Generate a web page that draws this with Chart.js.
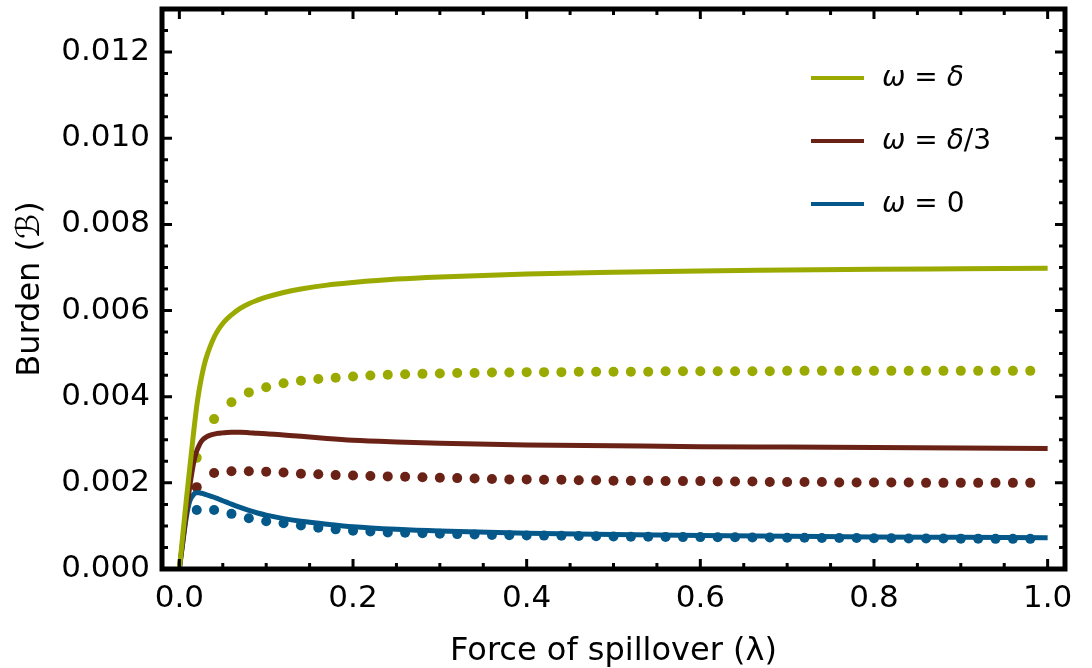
<!DOCTYPE html>
<html>
<head>
<meta charset="utf-8">
<title>Burden vs force of spillover</title>
<script src="https://cdn.jsdelivr.net/npm/chart.js@4.4.1/dist/chart.umd.min.js"></script>
<style>
  html, body { margin: 0; padding: 0; background: #fff; }
  #burdenChart { display: block; }
</style>
</head>
<body>
<canvas id="burdenChart" width="1092" height="668"></canvas>
<script>
// Solid curves, values in units of 0.001
const lambdaLine = [0, 0.004, 0.008, 0.012, 0.016, 0.018, 0.02, 0.0225, 0.025, 0.0275, 0.03, 0.0325, 0.035, 0.04, 0.045, 0.05, 0.055, 0.06, 0.07, 0.08, 0.09, 0.1, 0.12, 0.14, 0.17, 0.2, 0.25, 0.3, 0.4, 0.5, 0.6, 0.7, 0.8, 0.9, 1.0];
const burdenDelta = [0, 0.8, 1.6, 2.35, 3.1, 3.45, 3.78, 4.12, 4.4, 4.64, 4.84, 5.0, 5.14, 5.38, 5.56, 5.7, 5.81, 5.9, 6.05, 6.16, 6.24, 6.31, 6.42, 6.5, 6.59, 6.65, 6.73, 6.78, 6.85, 6.89, 6.92, 6.94, 6.96, 6.97, 6.98];
const burdenThird = [0, 0.65, 1.3, 1.92, 2.42, 2.6, 2.74, 2.86, 2.95, 3.01, 3.05, 3.08, 3.1, 3.13, 3.15, 3.16, 3.17, 3.175, 3.175, 3.165, 3.15, 3.14, 3.11, 3.08, 3.03, 2.99, 2.95, 2.92, 2.88, 2.86, 2.84, 2.83, 2.82, 2.81, 2.8];
const burdenZero = [0, 0.62, 1.2, 1.58, 1.72, 1.76, 1.77, 1.77, 1.76, 1.75, 1.73, 1.715, 1.7, 1.665, 1.625, 1.585, 1.545, 1.505, 1.43, 1.36, 1.3, 1.25, 1.17, 1.11, 1.04, 0.98, 0.92, 0.88, 0.83, 0.8, 0.775, 0.76, 0.745, 0.735, 0.725];

// Dotted series (every 0.02), values in units of 0.001
const lambdaDots = [0.02, 0.04, 0.06, 0.08, 0.10, 0.12, 0.14, 0.16, 0.18, 0.20, 0.22, 0.24, 0.26, 0.28, 0.30, 0.32, 0.34, 0.36, 0.38, 0.40, 0.42, 0.44, 0.46, 0.48, 0.50, 0.52, 0.54, 0.56, 0.58, 0.60, 0.62, 0.64, 0.66, 0.68, 0.70, 0.72, 0.74, 0.76, 0.78, 0.80, 0.82, 0.84, 0.86, 0.88, 0.90, 0.92, 0.94, 0.96, 0.98];
const dotsDelta = [2.58, 3.48, 3.87, 4.10, 4.22, 4.31, 4.37, 4.41, 4.44, 4.47, 4.49, 4.51, 4.52, 4.53, 4.54, 4.55, 4.55, 4.56, 4.56, 4.57, 4.57, 4.57, 4.58, 4.58, 4.58, 4.58, 4.58, 4.59, 4.59, 4.59, 4.59, 4.59, 4.59, 4.59, 4.60, 4.60, 4.60, 4.60, 4.60, 4.60, 4.60, 4.60, 4.60, 4.60, 4.60, 4.60, 4.60, 4.60, 4.60];
const dotsThird = [1.90, 2.23, 2.27, 2.27, 2.26, 2.24, 2.21, 2.20, 2.18, 2.17, 2.16, 2.15, 2.14, 2.13, 2.12, 2.11, 2.10, 2.09, 2.08, 2.08, 2.07, 2.07, 2.06, 2.06, 2.05, 2.05, 2.05, 2.04, 2.04, 2.04, 2.03, 2.03, 2.03, 2.02, 2.02, 2.02, 2.02, 2.01, 2.01, 2.01, 2.01, 2.01, 2.00, 2.00, 2.00, 2.00, 2.00, 2.00, 2.00];
const dotsZero = [1.37, 1.37, 1.28, 1.18, 1.11, 1.06, 1.01, 0.96, 0.92, 0.89, 0.87, 0.85, 0.84, 0.83, 0.82, 0.81, 0.80, 0.79, 0.785, 0.78, 0.775, 0.77, 0.765, 0.76, 0.755, 0.75, 0.75, 0.745, 0.74, 0.74, 0.735, 0.735, 0.73, 0.73, 0.725, 0.725, 0.72, 0.72, 0.72, 0.715, 0.715, 0.71, 0.71, 0.71, 0.705, 0.705, 0.70, 0.70, 0.70];

const xTicks = [0, 0.2, 0.4, 0.6, 0.8, 1.0];
const yTicks = [0, 0.002, 0.004, 0.006, 0.008, 0.010, 0.012];
const legendLabels = ["ω = δ", "ω = δ/3", "ω = 0"];

const GREEN = "#9aaa00";
const BROWN = "#6a2216";
const BLUE = "#05598a";
const FONT = "'DejaVu Sans', sans-serif";

const toPoints = (xs, ys) => xs.map((x, i) => ({ x: x, y: ys[i] / 1000 }));

function lineSet(data, color) {
  return {
    data: data,
    showLine: true,
    borderColor: color,
    backgroundColor: color,
    borderWidth: 5,
    pointRadius: 0,
    cubicInterpolationMode: "monotone",
  };
}

function dotSet(data, color) {
  return {
    data: data,
    showLine: false,
    backgroundColor: color,
    borderWidth: 0,
    pointRadius: 5,
  };
}

// Thick frame with inward ticks on all four sides, plus the legend
const framePlugin = {
  id: "frame",
  afterDraw(chart) {
    const { ctx, chartArea: a, scales } = chart;
    const sx = scales.x, sy = scales.y;
    ctx.save();
    ctx.strokeStyle = "#000";
    ctx.lineWidth = 3;
    ctx.beginPath();
    for (let i = 0; i <= 20; i++) {
      const px = sx.getPixelForValue(i * 0.05);
      const len = i % 4 === 0 ? 10 : 6;
      ctx.moveTo(px, a.bottom); ctx.lineTo(px, a.bottom - len);
      ctx.moveTo(px, a.top); ctx.lineTo(px, a.top + len);
    }
    for (let i = 0; i <= 26; i++) {
      const py = sy.getPixelForValue(i * 0.0005);
      const len = i % 4 === 0 ? 10 : 6;
      ctx.moveTo(a.left, py); ctx.lineTo(a.left + len, py);
      ctx.moveTo(a.right, py); ctx.lineTo(a.right - len, py);
    }
    ctx.stroke();
    ctx.lineWidth = 5;
    ctx.strokeRect(a.left, a.top, a.width, a.height);

    // legend
    const colors = [GREEN, BROWN, BLUE];
    const rowY = [78, 141, 204];
    ctx.textBaseline = "middle";
    legendLabels.forEach((label, i) => {
      ctx.strokeStyle = colors[i];
      ctx.lineWidth = 4;
      ctx.beginPath();
      ctx.moveTo(811, rowY[i]);
      ctx.lineTo(864, rowY[i]);
      ctx.stroke();
      let x = 882;
      ctx.fillStyle = "#000";
      for (const ch of label) {
        const greek = /[\u0370-\u03ff]/.test(ch);
        ctx.font = (greek ? "italic " : "") + "28px " + FONT;
        ctx.fillText(ch, x, rowY[i] + 1);
        x += ctx.measureText(ch).width;
      }
    });
    ctx.restore();
  },
};

new Chart(document.getElementById("burdenChart").getContext("2d"), {
  type: "scatter",
  data: {
    datasets: [
      lineSet(toPoints(lambdaLine, burdenDelta), GREEN),
      lineSet(toPoints(lambdaLine, burdenThird), BROWN),
      lineSet(toPoints(lambdaLine, burdenZero), BLUE),
      dotSet(toPoints(lambdaDots, dotsDelta), GREEN),
      dotSet(toPoints(lambdaDots, dotsThird), BROWN),
      dotSet(toPoints(lambdaDots, dotsZero), BLUE),
    ],
  },
  options: {
    responsive: false,
    animation: false,
    layout: { padding: { left: 0, right: 27, top: 9, bottom: 0 } },
    plugins: {
      legend: { display: false },
      tooltip: { enabled: false },
    },
    scales: {
      x: {
        type: "linear",
        min: -0.02,
        max: 1.02,
        grid: { display: false, drawTicks: false },
        border: { display: false },
        afterBuildTicks: (s) => { s.ticks = xTicks.map((v) => ({ value: v })); },
        afterFit: (s) => { s.height = 99; s.paddingLeft = 0; s.paddingRight = 0; },
        ticks: {
          padding: 11,
          color: "#000",
          font: { family: FONT, size: 31 },
          maxRotation: 0,
          callback: (v) => Number(v).toFixed(1),
        },
        title: {
          display: true,
          text: "Force of spillover (λ)",
          color: "#000",
          font: { family: FONT, size: 32 },
          padding: { top: 0, bottom: -3 },
        },
      },
      y: {
        type: "linear",
        min: 0,
        max: 0.013,
        grid: { display: false, drawTicks: false },
        border: { display: false },
        afterBuildTicks: (s) => { s.ticks = yTicks.map((v) => ({ value: v })); },
        afterFit: (s) => { s.width = 162; s.paddingTop = 0; s.paddingBottom = 0; },
        ticks: {
          padding: 12,
          color: "#000",
          font: { family: FONT, size: 31 },
          callback: (v) => Number(v).toFixed(3),
        },
        title: {
          display: true,
          text: "Burden (ℬ)",
          color: "#000",
          font: { family: FONT, size: 32 },
          padding: { top: 11, bottom: 0 },
        },
      },
    },
  },
  plugins: [framePlugin],
});
</script>
</body>
</html>
